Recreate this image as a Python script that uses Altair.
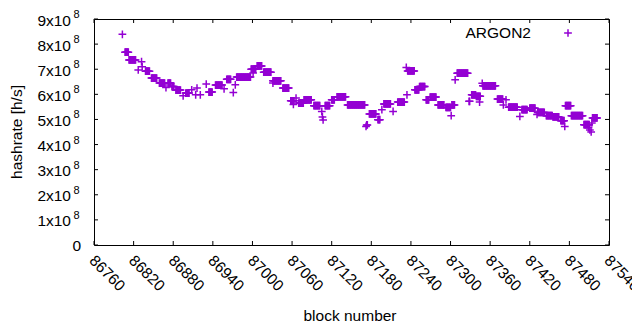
import altair as alt
import pandas as pd

# Hashrate runs: block range start, end and value (x 1e8 h/s)
run_start = [86803, 86807, 86813, 86827, 86832, 86833, 86838, 86847, 86859, 86869,
             86872, 86878, 86884, 86895, 86899, 86908, 86914, 86916, 86921, 86930,
             86934, 86944, 86957, 86961, 86971, 86974, 86976, 86998, 87001, 87007,
             87017, 87031, 87031, 87046, 87058, 87062, 87066, 87070, 87078, 87093,
             87105, 87106, 87107, 87110, 87120, 87128, 87144, 87172, 87173, 87177,
             87190, 87196, 87199, 87213, 87220, 87233, 87234, 87235, 87246, 87253,
             87263, 87269, 87281, 87293, 87301, 87302, 87307, 87310, 87328, 87332,
             87339, 87344, 87348, 87349, 87371, 87380, 87384, 87388, 87405, 87408,
             87420, 87431, 87432, 87445, 87455, 87467, 87473, 87474, 87483, 87502,
             87509, 87511, 87513, 87514, 87515]
run_end = [86803, 86812, 86823, 86827, 86832, 86833, 86844, 86855, 86867, 86869,
           86876, 86881, 86891, 86895, 86904, 86908, 86914, 86916, 86921, 86930,
           86939, 86954, 86957, 86967, 86971, 86974, 86997, 87005, 87001, 87014,
           87028, 87031, 87043, 87055, 87063, 87062, 87066, 87077, 87089, 87102,
           87105, 87106, 87107, 87117, 87124, 87141, 87170, 87172, 87174, 87187,
           87193, 87196, 87209, 87213, 87230, 87233, 87234, 87245, 87252, 87261,
           87267, 87278, 87290, 87300, 87301, 87306, 87307, 87326, 87329, 87338,
           87345, 87344, 87348, 87368, 87379, 87380, 87384, 87401, 87405, 87416,
           87428, 87431, 87442, 87454, 87464, 87472, 87473, 87482, 87500, 87510,
           87509, 87511, 87513, 87514, 87522]
run_value = [8.39, 7.68, 7.37, 6.97, 7.30, 7.10, 6.92, 6.65, 6.45, 6.27,
             6.45, 6.31, 6.17, 5.94, 6.05, 6.18, 5.98, 6.25, 5.98, 6.41,
             6.09, 6.37, 6.22, 6.60, 6.07, 6.38, 6.69, 7.00, 6.85, 7.13,
             6.88, 6.45, 6.54, 6.25, 5.74, 5.60, 5.85, 5.65, 5.78, 5.55,
             5.32, 5.10, 4.98, 5.55, 5.78, 5.90, 5.58, 4.72, 4.78, 5.22,
             4.99, 5.39, 5.62, 5.32, 5.69, 7.07, 5.98, 6.93, 6.18, 6.31,
             5.78, 5.89, 5.58, 5.48, 5.15, 5.58, 6.58, 6.84, 5.72, 5.98,
             5.92, 5.69, 6.44, 6.34, 5.81, 5.58, 5.78, 5.49, 5.12, 5.39,
             5.45, 5.20, 5.28, 5.15, 5.10, 4.95, 4.72, 5.55, 5.15, 4.79,
             4.67, 4.58, 4.50, 4.86, 5.06]

x_ticks = list(range(86760, 87541, 60))
y_ticks = [0, 1, 2, 3, 4, 5, 6, 7, 8, 9]
y_tick_labels = ["0", "1x10", "2x10", "3x10", "4x10", "5x10", "6x10", "7x10", "8x10", "9x10"]
y_exponent = "8"
series_name = "ARGON2"
x_title = "block number"
y_title = "hashrate [h/s]"

rows = []
for s, e, v in zip(run_start, run_end, run_value):
    for b in range(s, e + 1):
        rows.append({"block": b, "hashrate": v * 1e8})
df = pd.DataFrame(rows)

W, H = 515, 226
FONT = "Liberation Sans"
COLOR = "#9400D3"
CROSS = "M-1,0L1,0M0,-1L0,1"

xscale = alt.Scale(domain=[86760, 87540], nice=False, zero=False)
yscale = alt.Scale(domain=[0, 9e8], nice=False)

points = alt.Chart(df).mark_point(
    shape=CROSS, filled=False, size=60, strokeWidth=1.5, color=COLOR, opacity=1
).encode(
    x=alt.X("block:Q", scale=xscale, axis=None),
    y=alt.Y("hashrate:Q", scale=yscale, axis=None),
)

xt = pd.DataFrame({"block": x_ticks})
yt = pd.DataFrame({"hashrate": [t * 1e8 for t in y_ticks], "lab": y_tick_labels,
                   "t": y_ticks})

xb = alt.Chart(xt).mark_rule(color="black", strokeWidth=1).encode(
    x=alt.X("block:Q", scale=xscale, axis=None), y=alt.value(H), y2=alt.value(H - 4))
xtop = alt.Chart(xt).mark_rule(color="black", strokeWidth=1).encode(
    x=alt.X("block:Q", scale=xscale, axis=None), y=alt.value(0), y2=alt.value(4))
yl = alt.Chart(yt).mark_rule(color="black", strokeWidth=1).encode(
    y=alt.Y("hashrate:Q", scale=yscale, axis=None), x=alt.value(0), x2=alt.value(4))
yr = alt.Chart(yt).mark_rule(color="black", strokeWidth=1).encode(
    y=alt.Y("hashrate:Q", scale=yscale, axis=None), x=alt.value(W), x2=alt.value(W - 4))

xlab = alt.Chart(xt).mark_text(
    angle=45, align="left", baseline="middle", fontSize=15.5, font=FONT, color="black",
    dx=-1.4, dy=1.4
).encode(x=alt.X("block:Q", scale=xscale, axis=None), y=alt.value(H + 13),
         text=alt.Text("block:Q", format="d"))

ylab_main = alt.Chart(yt).transform_filter("datum.t > 0").mark_text(
    align="right", baseline="middle", fontSize=15.5, font=FONT, dy=1.5, color="black"
).encode(y=alt.Y("hashrate:Q", scale=yscale, axis=None), x=alt.value(-23), text="lab:N")
ylab_exp = alt.Chart(yt).transform_filter("datum.t > 0").mark_text(
    align="left", baseline="middle", fontSize=11, font=FONT, dy=-4, color="black"
).encode(y=alt.Y("hashrate:Q", scale=yscale, axis=None), x=alt.value(-20.5),
         text=alt.value(y_exponent))
ylab_zero = alt.Chart(yt).transform_filter("datum.t == 0").mark_text(
    align="right", baseline="middle", fontSize=15.5, font=FONT, dy=1, color="black"
).encode(y=alt.Y("hashrate:Q", scale=yscale, axis=None), x=alt.value(-13), text="lab:N")

one = pd.DataFrame({"k": [0]})
ytitle = alt.Chart(one).mark_text(
    angle=270, align="center", baseline="middle", fontSize=15.5, font=FONT, color="black"
).encode(x=alt.value(-77), y=alt.value(H / 2), text=alt.value(y_title))
xtitle = alt.Chart(one).mark_text(
    align="center", baseline="middle", fontSize=15.5, font=FONT, color="black"
).encode(x=alt.value(256), y=alt.value(297), text=alt.value(x_title))
leg_text = alt.Chart(one).mark_text(
    align="right", baseline="middle", fontSize=15.5, font=FONT, color="black"
).encode(x=alt.value(437), y=alt.value(14), text=alt.value(series_name))
leg_pt = alt.Chart(one).mark_point(
    shape=CROSS, filled=False, size=60, strokeWidth=1.5, color=COLOR, opacity=1
).encode(x=alt.value(474), y=alt.value(14))

chart = alt.layer(
    points, xb, xtop, yl, yr, xlab, ylab_main, ylab_exp, ylab_zero, ytitle, xtitle,
    leg_text, leg_pt
).properties(
    width=W, height=H,
    autosize=alt.AutoSizeParams(type="none"),
    padding={"left": 86, "top": 11, "right": 23, "bottom": 80},
    background="white",
).configure_view(stroke="black", strokeWidth=1)

chart.save("out.html", embed_options={"renderer": "svg", "actions": False})
